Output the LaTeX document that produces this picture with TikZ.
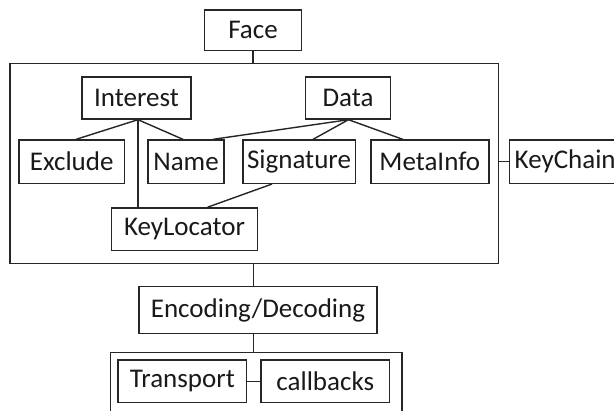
\documentclass[tikz,border=0pt]{standalone}
\usepackage{fontspec}
\setmainfont{Carlito}
\begin{document}
\begin{tikzpicture}[x=1pt,y=-1pt,
  box/.style={draw=black!85,line width=1.4pt,inner sep=0pt,text=black!90,
    font=\fontsize{27}{31}\selectfont},
  link/.style={draw=black!85,line width=1.4pt}]
\useasboundingbox (0,0) rectangle (614,411);
\clip (0,0) rectangle (614,411);
\node[box,minimum width=97,minimum height=40.7] (face) at (253,30.4) {Face};
\node[box,minimum width=488.7,minimum height=200] (big) at (254.2,163.3) {};
\node[box,minimum width=109,minimum height=42] (interest) at (136.5,98) {Interest};
\node[box,minimum width=85,minimum height=42] (data) at (348,98) {Data};
\node[box,minimum width=105.7,minimum height=43.3] (exclude) at (71.7,161.7) {Exclude};
\node[box,minimum width=76,minimum height=43.3] (name) at (186,161.7) {Name};
\node[box,minimum width=112.4,minimum height=43.3] (signature) at (299,161.7) {Signature};
\node[box,minimum width=118,minimum height=43.3] (metainfo) at (429.8,161.7) {MetaInfo};
\node[box,minimum width=110,minimum height=43.3,anchor=west,align=left,text width=110,inner xsep=0pt] (keychain) at (509,161.7) {\hspace*{5pt}KeyChain};
\node[box,minimum width=145.7,minimum height=42.7] (keylocator) at (184.5,229.3) {KeyLocator};
\node[box,minimum width=238,minimum height=46.7] (enc) at (258,310) {Encoding/Decoding};
\node[box,minimum width=291.8,minimum height=70,anchor=north west] (bottom) at (109.6,351.7) {};
\node[box,minimum width=128.7,minimum height=42.7] (transport) at (182.4,381.3) {Transport};
\node[box,minimum width=128.6,minimum height=42.7] (callbacks) at (325.3,381.3) {callbacks};
% connectors
\draw[link] (face.south) -- (face.south |- big.north);
\draw[link] ([xshift=1.5pt]interest.south) -- ([xshift=4.3pt]exclude.north);
\draw[link] ([xshift=1.5pt]interest.south) -- ([xshift=-3pt]name.north);
\draw[link] ([xshift=1.5pt]interest.south) -- ([xshift=1.5pt]interest.south |- keylocator.north);
\draw[link] ([xshift=0.5pt]data.south) -- ([xshift=27pt]name.north);
\draw[link] ([xshift=0.5pt]data.south) -- ([xshift=14pt]signature.north);
\draw[link] ([xshift=0.5pt]data.south) -- ([xshift=-27pt]metainfo.north);
\draw[link] ([xshift=-27pt]signature.south) -- ([xshift=23pt]keylocator.north);
\draw[link] (keychain.west -| big.east) -- (keychain.west);
\draw[link] ([xshift=-0.5pt]big.south) -- ([xshift=-0.5pt]big.south |- enc.north);
\draw[link] ([xshift=-0.5pt]big.south |- enc.south) -- ([xshift=-0.5pt]big.south |- bottom.north);
\draw[link] (transport.east) -- (callbacks.west);
\end{tikzpicture}
\end{document}
